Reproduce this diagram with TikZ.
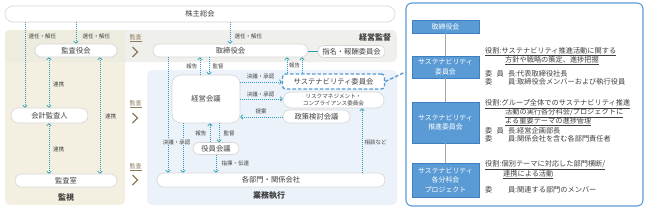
\documentclass[tikz,border=0pt]{standalone}
\usepackage{fontspec}
\setmainfont{Noto Sans CJK JP}
\usetikzlibrary{arrows.meta,calc}
\definecolor{beige}{HTML}{F4F0E1}
\definecolor{beigetop}{HTML}{EEECDE}
\definecolor{grayband}{HTML}{EFEFEC}
\definecolor{bluepanel}{HTML}{EBF2F9}
\definecolor{tealc}{HTML}{2A9CB5}
\definecolor{pillline}{HTML}{D6D6D6}
\definecolor{txt}{HTML}{404040}
\definecolor{kansa}{HTML}{8C7A5B}
\definecolor{dashblue}{HTML}{5A9AD2}
\definecolor{boxblue}{HTML}{5B9BD5}
\definecolor{boxedge}{HTML}{3F80C2}
\tikzset{
  pill/.style={draw=pillline, fill=white, rounded corners=6.5pt, minimum height=13pt, inner sep=0pt, font=\fontsize{7.3}{8}\selectfont, text=txt, line width=0.6pt},
  arr/.style={tealc, line width=0.7pt, dash pattern=on 1pt off 1pt, -{Straight Barb[length=2pt,width=4.5pt]}},
  darr/.style={tealc, line width=0.7pt, dash pattern=on 1pt off 1pt, {Straight Barb[length=2pt,width=4.5pt]}-{Straight Barb[length=2pt,width=4.5pt]}},
  lbl/.style={font=\fontsize{5.5}{6}\selectfont, text=txt, inner sep=0.5pt},
  kansalbl/.style={font=\fontsize{6}{6}\selectfont, text=kansa, inner sep=0pt},
  chev/.style={kansa, line width=1.1pt},
  head/.style={font=\fontsize{8}{9}\selectfont\bfseries, text=txt, inner sep=0pt},
  rbox/.style={draw=boxedge, fill=boxblue, text=white, minimum width=67pt, inner sep=0pt, font=\fontsize{6.9}{9.8}\selectfont, align=center, line width=0.6pt},
  rtxt/.style={anchor=west, font=\fontsize{7.2}{8}\selectfont, text=txt, inner sep=0pt},
}
\begin{document}
\begin{tikzpicture}[x=1pt,y=-1pt]
\useasboundingbox (0,0) rectangle (645,209);
% panels
\fill[grayband, rounded corners=5pt] (5,30) rectangle (397,62);
\fill[beige, rounded corners=5pt] (5,30) rectangle (125,205);
\begin{scope}
  \clip[rounded corners=5pt] (5,30) rectangle (125,205);
  \fill[beigetop] (5,30) rectangle (125,62);
\end{scope}
\fill[bluepanel, rounded corners=5pt] (147,70) rectangle (397,205);
% coordinates
\coordinate (c25) at (25,0);
\coordinate (c49) at (49,0);
\coordinate (c76) at (76,0);
\coordinate (c100) at (100,0);
\coordinate (c168) at (168,0);
\coordinate (c183) at (183,0);
\coordinate (c200) at (200,0);
\coordinate (c209) at (209,0);
\coordinate (c210) at (210,0);
\coordinate (c216) at (216,0);
\coordinate (c219) at (219,0);
\coordinate (c230) at (230,0);
\coordinate (c287) at (287,0);
\coordinate (c302) at (302,0);
\coordinate (c362) at (362,0);
\coordinate (y51) at (0,51);
\coordinate (y72) at (0,72);
\coordinate (y82) at (0,82);
\coordinate (y99) at (0,99);
\coordinate (y117) at (0,117);
% nodes left / middle
\node[pill, minimum width=390pt, minimum height=16pt, rounded corners=8pt] (kabu) at (200,14) {株主総会};
\node[pill, minimum width=82pt] (kansayaku) at (76,50.5) {監査役会};
\node[pill, minimum width=77pt, minimum height=15pt, rounded corners=7.5pt] (kaikei) at (49.5,115.5) {会計監査人};
\node[pill, minimum width=102pt] (kansashitsu) at (66,180.5) {監査室};
\node[pill, minimum width=155pt] (torishimari) at (230.5,50.5) {取締役会};
\node[pill, minimum width=67pt, minimum height=12pt, rounded corners=6pt] (shimei) at (351.5,51.5) {指名・報酬委員会};
\node[pill, minimum width=68pt, minimum height=48pt, rounded corners=9pt] (keiei) at (206,99) {経営会議};
\node[pill, draw=dashblue, line width=1.4pt, dash pattern=on 3.5pt off 2pt, rounded corners=3pt, minimum width=102pt, minimum height=15pt] (sustain) at (333.5,81.5) {サステナビリティ委員会};
\node[pill, minimum width=101pt, minimum height=16pt, rounded corners=8pt, align=center, font=\fontsize{5.6}{6.2}\selectfont] (risk) at (333.5,100) {リスクマネジメント・\\コンプライアンス委員会};
\node[pill, minimum width=67pt] (seisaku) at (316.5,116.5) {政策検討会議};
\node[pill, minimum width=46pt, minimum height=12pt, rounded corners=6pt] (yakuin) at (216,148.5) {役員会議};
\node[pill, minimum width=228pt, minimum height=14pt, rounded corners=7pt] (kakubu) at (271,180) {各部門・関係会社};
% headings
\node[head] (kanshi) at (66,197) {監視};
\node[head] (gyomu) at (269,196) {業務執行};
\node[head] (keieikantoku) at (375,37) {経営監督};
% kansa marks
\node[kansalbl] (k1) at (135.5,38) {\underline{監査}};
\node[kansalbl] (k2) at (135.5,104) {\underline{監査}};
\node[kansalbl] (k3) at (135.5,167) {\underline{監査}};
\draw[chev] (132.5,47) -- (137.5,52) -- (132.5,57);
\draw[chev] (132.5,113) -- (137.5,118) -- (132.5,123);
\draw[chev] (132.5,175) -- (137.5,180) -- (132.5,185);
% arrows left
\draw[arr] (kabu.south -| c25) -- (kaikei.north -| c25);
\node[lbl, anchor=west] (l1) at (28,36) {選任・解任};
\draw[arr] (kabu.south -| c76) -- (kansayaku.north -| c76);
\node[lbl, anchor=west] (l2) at (82,36) {選任・解任};
\draw[darr] (kansayaku.south -| c49) -- (kaikei.north -| c49);
\node[lbl, anchor=west] (l3) at (52.5,84) {連携};
\draw[darr] (kansayaku.south -| c100) -- (kansashitsu.north -| c100);
\node[lbl, anchor=west] (l4) at (104.5,116) {連携};
\draw[darr] (kaikei.south -| c49) -- (kansashitsu.north -| c49);
\node[lbl, anchor=west] (l5) at (52.5,149) {連携};
% arrows middle
\draw[arr] (kabu.south -| c230) -- (torishimari.north -| c230);
\node[lbl, anchor=west] (l6) at (234,36) {選任・解任};
\draw[arr] (torishimari.south -| c168) -- (kakubu.north -| c168);
\draw[arr] (keiei.south -| c183) -- (kakubu.north -| c183);
\node[lbl, fill=bluepanel] (l7) at (176.5,142) {決議・承認};
\draw[arr] (keiei.north -| c200) -- (torishimari.south -| c200);
\node[lbl, anchor=east] (l8) at (198,66) {報告};
\draw[arr] (torishimari.south -| c209) -- (keiei.north -| c209);
\node[lbl, anchor=west] (l9) at (212,66) {監督};
\draw[arr] (keiei.east |- y82) -- (sustain.west |- y82);
\node[lbl] (l10) at (260.5,76) {決議・承認};
\draw[arr] (keiei.east |- y99) -- (risk.west |- y99);
\node[lbl] (l11) at (260.5,94) {決議・承認};
\draw[arr] (seisaku.west |- y117) -- (keiei.east |- y117);
\node[lbl] (l12) at (261,111) {提案};
\draw[arr] (yakuin.north -| c210) -- (keiei.south -| c210);
\node[lbl, anchor=east] (l13) at (207,133) {報告};
\draw[arr] (keiei.south -| c219) -- (yakuin.north -| c219);
\node[lbl, anchor=west] (l14) at (223,133) {監督};
\draw[arr] (yakuin.south -| c216) -- (kakubu.north -| c216);
\node[lbl, anchor=west] (l15) at (221,163) {指揮・伝達};
\draw[arr] (sustain.north -| c287) -- (torishimari.south -| c287);
\draw[arr] (sustain.north -| c302) -- (torishimari.south -| c302);
\node[lbl] (l16) at (294.5,65) {報告};
\draw[arr] (kakubu.north -| c362) -- (risk.south -| c362);
\node[lbl, anchor=west] (l17) at (364,142) {相談など};
\draw[tealc, line width=1pt] (torishimari.east |- y51) -- (shimei.west |- y51);
% right panel
\node[draw=boxblue, line width=1.1pt, rounded corners=6pt, fill=white, minimum width=237pt, minimum height=203pt, inner sep=0pt] (rp) at (524.5,104.5) {};
\draw[dashblue, line width=1.4pt, dash pattern=on 3.5pt off 2pt] (sustain.east) -- (rp.west |- y72);
\node[rbox, minimum height=13pt] (r1) at (445.5,26.5) {取締役会};
\node[rbox, minimum height=22pt] (r2) at (445.5,67) {サステナビリティ\\委員会};
\node[rbox, minimum height=41pt] (r3) at (445.5,122.5) {サステナビリティ\\推進委員会};
\node[rbox, minimum height=34pt, font=\fontsize{6.9}{9.5}\selectfont] (r4) at (445.5,180) {サステナビリティ\\各分科会\\プロジェクト};
\draw[gray!70, line width=0.8pt] (r1) -- (r2);
\draw[gray!70, line width=0.8pt] (r2) -- (r3);
\draw[gray!70, line width=0.8pt] (r3) -- (r4);
% right texts
\node[rtxt] (t1a) at (485,51.5) {\underline{役割:サステナビリティ推進活動に関する}};
\node[rtxt] (t1b) at (505,60.3) {\underline{方針や戦略の策定、進捗把握}};
\node[rtxt] (t1c) at (485,73.5) {\makebox[30pt][s]{委\hfill 員\hfill 長}:代表取締役社長};
\node[rtxt] (t1d) at (485,81.5) {\makebox[30pt][s]{委\hfill 員}:取締役会メンバーおよび執行役員};
\node[rtxt] (t2a) at (485,104.2) {\underline{役割:グループ全体でのサステナビリティ推進}};
\node[rtxt] (t2b) at (505,113.3) {\underline{活動の実行各分科会/プロジェクトに}};
\node[rtxt] (t2c) at (505,121.8) {\underline{よる重要テーマの進捗管理}};
\node[rtxt] (t2d) at (485,130.5) {\makebox[30pt][s]{委\hfill 員\hfill 長}:経営企画部長};
\node[rtxt] (t2e) at (485,138.5) {\makebox[30pt][s]{委\hfill 員}:関係会社を含む各部門責任者};
\node[rtxt] (t3a) at (485,165.5) {\underline{役割:個別テーマに対応した部門横断/}};
\node[rtxt] (t3b) at (503,174.7) {\underline{連携による活動}};
\node[rtxt] (t3c) at (485,190) {\makebox[30pt][s]{委\hfill 員}:関連する部門のメンバー};
\end{tikzpicture}
\end{document}
